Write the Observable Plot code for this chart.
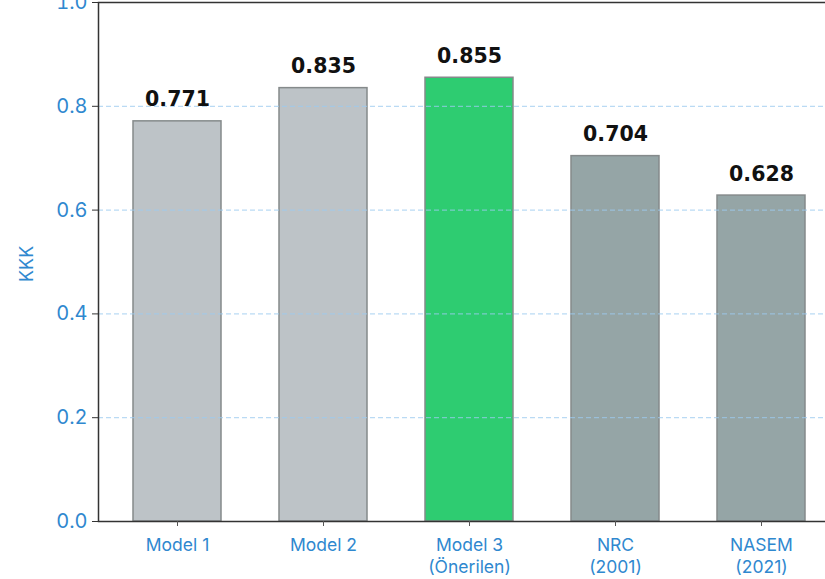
<!DOCTYPE html>
<html><head><meta charset="utf-8">
<script src="https://cdn.jsdelivr.net/npm/d3@7"></script>
<script src="https://cdn.jsdelivr.net/npm/@observablehq/plot@0.6"></script>
<style>html,body{margin:0;padding:0;overflow:hidden;background:#fff} svg{max-width:none !important}</style>
</head><body><div id="chart"></div>
<script>
const models = ["Model 1", "Model 2", "Model 3\n(Önerilen)", "NRC\n(2001)", "NASEM\n(2021)"];
const kkk = [0.771, 0.835, 0.855, 0.704, 0.628];
const barColors = ["#bdc3c7", "#bdc3c7", "#2ecc71", "#95a5a6", "#95a5a6"];
const yTicks = [0, 0.2, 0.4, 0.6, 0.8, 1.0];
const gridTicks = [0.2, 0.4, 0.6, 0.8];
const yLabel = ["KKK"];

const data = models.map((m, i) => ({model: m, value: kkk[i], color: barColors[i]}));
const blue = "#2f88cf";

const chart = Plot.plot({
  width: 845,
  height: 579,
  marginTop: 2,
  marginBottom: 58,
  marginLeft: 98,
  marginRight: 5,
  style: {fontFamily: "Inter, 'Noto Sans', sans-serif", background: "#fff", overflow: "visible", maxWidth: "none"},
  x: {type: "band", domain: models, paddingInner: 0.4, paddingOuter: 0.232, label: null},
  y: {domain: [0, 1], label: null},
  marks: [
    Plot.barY(data, {x: "model", y: "value", fill: d => d.color, stroke: "#858a8b", strokeWidth: 1.5}),
    Plot.gridY(gridTicks, {stroke: "#9ccaf0", strokeOpacity: 0.7, strokeWidth: 1.2, strokeDasharray: "5,3"}),
    Plot.text(data, {x: "model", y: "value", text: d => d.value.toFixed(3), dy: -15, lineAnchor: "bottom",
      fontFamily: "'DejaVu Sans', sans-serif", fontWeight: "bold", fontSize: 20.5, fill: "#111"}),
    Plot.frame({stroke: "#333", strokeWidth: 1.5}),
    Plot.axisY(yTicks, {tickSize: 6, tickPadding: 5, stroke: "#333", fill: blue, fontSize: 20, letterSpacing: "0.1em",
      tickFormat: d => d.toFixed(1), label: null}),
    Plot.text(yLabel, {text: d => d, frameAnchor: "left", rotate: -90, dx: -71, dy: 20, fill: blue, fontSize: 18}),
    Plot.axisX({tickSize: 5, tickPadding: 8, stroke: "#555", fill: blue, fontSize: 17.5, lineHeight: 1.3,
      tickFormat: d => d, label: null})
  ]
});
document.getElementById("chart").appendChild(chart);
</script>
</body></html>
